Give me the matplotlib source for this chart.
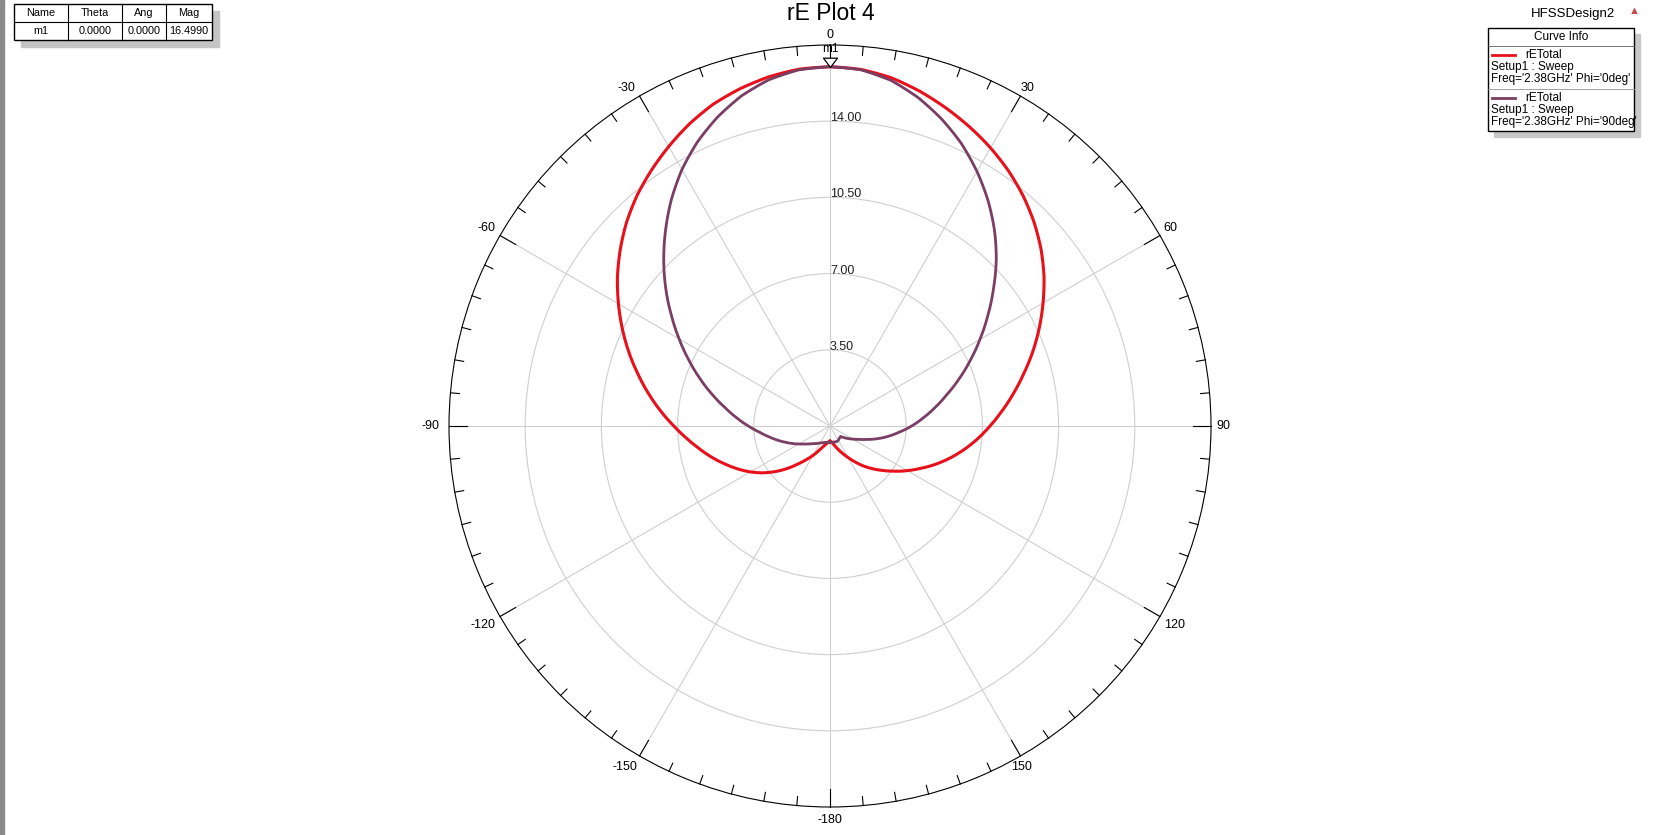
import numpy as np
import matplotlib
matplotlib.use("Agg")
import matplotlib.pyplot as plt
from matplotlib.path import Path
from matplotlib.patches import Rectangle
from matplotlib.lines import Line2D

plt.rcParams['font.family'] = ['Liberation Sans', 'DejaVu Sans']

# ---------------- data ----------------
theta_deg = list(range(-180, 181, 5))

# rETotal, Phi = 0deg  (theta -180 .. 180, step 5)
r_phi0 = [0.70, 0.74, 0.80, 0.90, 1.05, 1.28, 1.55, 1.88, 2.27, 2.75, 3.25, 3.75, 4.22,
          4.67, 5.12, 5.60, 6.08, 6.60, 7.17, 7.80, 8.45, 9.12, 9.82, 10.52, 11.22, 11.92,
          12.58, 13.22, 13.80, 14.32, 14.82, 15.30, 15.72, 16.03, 16.28, 16.45, 16.50,
          16.44, 16.24, 15.92, 15.55, 15.16, 14.75, 14.30, 13.80, 13.25, 12.65, 12.00,
          11.30, 10.60, 9.90, 9.20, 8.55, 7.93, 7.35, 6.80, 6.25, 5.70, 5.15, 4.60, 4.10,
          3.62, 3.18, 2.78, 2.40, 2.02, 1.68, 1.40, 1.17, 0.98, 0.83, 0.73, 0.70]

# rETotal, Phi = 90deg
r_phi90 = [0.745, 0.75, 0.76, 0.78, 0.81, 0.85, 0.90, 0.97, 1.05, 1.15, 1.28, 1.44, 1.65,
           1.90, 2.18, 2.50, 2.85, 3.25, 3.75, 4.30, 4.90, 5.60, 6.35, 7.15, 8.00, 8.90,
           9.85, 10.80, 11.75, 12.70, 13.60, 14.40, 15.10, 15.70, 16.15, 16.42, 16.50,
           16.42, 16.12, 15.62, 15.00, 14.30, 13.50, 12.65, 11.75, 10.80, 9.80, 8.85,
           7.95, 7.10, 6.30, 5.55, 4.90, 4.30, 3.75, 3.20, 2.72, 2.25, 1.80, 1.45, 1.20,
           1.00, 0.82, 0.68, 0.70, 0.72, 0.76, 0.78, 0.77, 0.76, 0.75, 0.745, 0.745]

r_ticks = [3.5, 7.0, 10.5, 14.0]
r_max = 17.5
angle_ticks = [0, 30, 60, 90, 120, 150, 180, 210, 240, 270, 300, 330]
angle_labels = ['0', '30', '60', '90', '120', '150', '-180', '-150', '-120', '-90', '-60', '-30']

marker_name = 'm1'
marker_theta = 0.0
marker_mag = 16.4990

table_header = ['Name', 'Theta', 'Ang', 'Mag']
table_row = ['m1', '0.0000', '0.0000', '16.4990']

series_names = ['rETotal', 'rETotal']
series_setup = ['Setup1 : Sweep', 'Setup1 : Sweep']
series_desc = ["Freq='2.38GHz' Phi='0deg'", "Freq='2.38GHz' Phi='90deg'"]
series_colors = ['#e8101a', '#7a3d63']

# ---------------- figure ----------------
W, H = 1662, 835
fig = plt.figure(figsize=(W / 100, H / 100), dpi=100)
fig.patch.set_facecolor('white')

def fx(x):
    return x / W

def fy(y):
    return 1 - y / H

cx, cy, R = 830, 426, 381
px_per_unit = R / r_max
ax = fig.add_axes([fx(cx - R), fy(cy + R), 2 * R / W, 2 * R / H], projection='polar')
ax.set_theta_zero_location('N')
ax.set_theta_direction(-1)
ax.set_ylim(0, r_max)

th = np.deg2rad(theta_deg)
curves = []
curves += ax.plot(th, r_phi0, color=series_colors[0], lw=2.2, zorder=3,
                  solid_joinstyle='round')
curves += ax.plot(th, r_phi90, color=series_colors[1], lw=2.0, zorder=4,
                  solid_joinstyle='round')
# let the polar projection draw each segment along the polar grid (smooth arcs)
for ln in curves:
    try:
        ln.get_path()._interpolation_steps = 8
    except Exception:
        pass

# grid
ax.set_yticks(r_ticks)
ax.set_yticklabels([])
ax.set_xticks(np.deg2rad(angle_ticks))
ax.set_xticklabels([])
ax.grid(True, which='major', color='#cfcfcf', lw=0.8)
ax.tick_params(axis='x', which='both', length=0)
ax.spines['polar'].set_color('black')
ax.spines['polar'].set_linewidth(0.8)

# inward ticks on the outer circle
for a in range(0, 360, 5):
    L = (18 if a % 30 == 0 else 9) / px_per_unit
    ax.plot([np.deg2rad(a)] * 2, [r_max - L, r_max], color='black', lw=0.8,
            clip_on=False, zorder=5)

# angle labels (offsets in pixels from the point on the outer circle)
label_offsets = {0: (0, 9.5), 30: (7.4, 8.5), 60: (10.6, 7.4), 90: (12.7, 0),
                 120: (14.8, -8.5), 150: (1, -10.6), 180: (0, -12.7),
                 210: (-14.8, -10.6), 240: (-17, -8.5), 270: (-18, 0),
                 300: (-13.8, 7.4), 330: (-12.7, 8.5)}
for a, lab in zip(angle_ticks, angle_labels):
    ax.annotate(lab, xy=(np.deg2rad(a), r_max), xytext=label_offsets[a],
                textcoords='offset pixels', ha='center', va='center', fontsize=9,
                annotation_clip=False)

for r in r_ticks:
    ax.text(0, r, f"{r:.2f}", ha='left', va='baseline', fontsize=9, color='#202020',
            zorder=2)

# marker m1
tri = Path([(-0.75, 1.0), (0.75, 1.0), (0.0, 0.0), (-0.75, 1.0)],
           [Path.MOVETO, Path.LINETO, Path.LINETO, Path.CLOSEPOLY])
ax.plot([np.deg2rad(marker_theta)], [marker_mag], marker=tri, markersize=13.4,
        markerfacecolor='white', markeredgecolor='black', markeredgewidth=0.9,
        linestyle='none', zorder=6, clip_on=False)
ax.annotate(marker_name, xy=(np.deg2rad(marker_theta), marker_mag),
            xytext=(0, 12.5), textcoords='offset points', ha='center', va='center',
            fontsize=8.5, annotation_clip=False, zorder=6)

# title
fig.text(fx(831), fy(14), 'rE Plot 4', ha='center', va='center', fontsize=16.5)

# left window edge
fig.patches.append(Rectangle((0, 0), fx(4), 1, transform=fig.transFigure,
                             color='#8a8a8a', zorder=0))

# ---------------- marker table ----------------
tx0, tx1, ty0, ty1 = 14, 212, 4, 40
fig.patches.append(Rectangle((fx(tx0 + 7), fy(ty1 + 7)), fx(tx1 - tx0), (ty1 - ty0) / H,
                             transform=fig.transFigure, color='#c4c4c4', zorder=1))
fig.patches.append(Rectangle((fx(tx0), fy(ty1)), fx(tx1 - tx0), (ty1 - ty0) / H,
                             transform=fig.transFigure, facecolor='white',
                             edgecolor='black', lw=1.0, zorder=2))
col_x = [14, 68, 122, 166, 212]
for xv in col_x[1:-1]:
    fig.add_artist(Line2D([fx(xv), fx(xv)], [fy(ty0), fy(ty1)], color='black', lw=0.8, zorder=3))
fig.add_artist(Line2D([fx(tx0), fx(tx1)], [fy(22), fy(22)], color='black', lw=0.8, zorder=3))
for i in range(4):
    xm = (col_x[i] + col_x[i + 1]) / 2
    fig.text(fx(xm), fy(13.5), table_header[i], ha='center', va='center', fontsize=7.8, zorder=4)
    fig.text(fx(xm), fy(31), table_row[i], ha='center', va='center', fontsize=7.8, zorder=4)

# ---------------- curve info box ----------------
fig.text(fx(1573), fy(13.5), 'HFSSDesign2', ha='center', va='center', fontsize=9.5)
fig.text(fx(1634), fy(11), '\u25B2', ha='center', va='center', fontsize=8, color='#c84848')
bx0, bx1, by0, by1 = 1488, 1634, 28, 131
fig.patches.append(Rectangle((fx(bx0 + 6), fy(by1 + 6)), fx(bx1 - bx0), (by1 - by0) / H,
                             transform=fig.transFigure, color='#c8c8c8', zorder=1))
fig.patches.append(Rectangle((fx(bx0), fy(by1)), fx(bx1 - bx0), (by1 - by0) / H,
                             transform=fig.transFigure, facecolor='white',
                             edgecolor='black', lw=1.0, zorder=2))
fig.add_artist(Line2D([fx(bx0), fx(bx1)], [fy(46), fy(46)], color='#606060', lw=0.6, zorder=3))
fig.add_artist(Line2D([fx(bx0), fx(bx1)], [fy(88.5), fy(88.5)], color='#909090', lw=0.6, zorder=3))
fig.text(fx(1561), fy(37), 'Curve Info', ha='center', va='center', fontsize=8.5, zorder=4)
for k, y0 in enumerate([55, 98]):
    fig.add_artist(Line2D([fx(1492), fx(1515)], [fy(y0), fy(y0)], color=series_colors[k],
                          lw=2.0, zorder=4))
    fig.text(fx(1525), fy(y0), series_names[k], ha='left', va='center', fontsize=8.5, zorder=4)
    fig.text(fx(1491), fy(y0 + 12), series_setup[k], ha='left', va='center', fontsize=8.5, zorder=4)
    fig.text(fx(1491), fy(y0 + 24), series_desc[k], ha='left', va='center', fontsize=8.5, zorder=4)

fig.savefig('out.png', dpi=100, facecolor='white')
